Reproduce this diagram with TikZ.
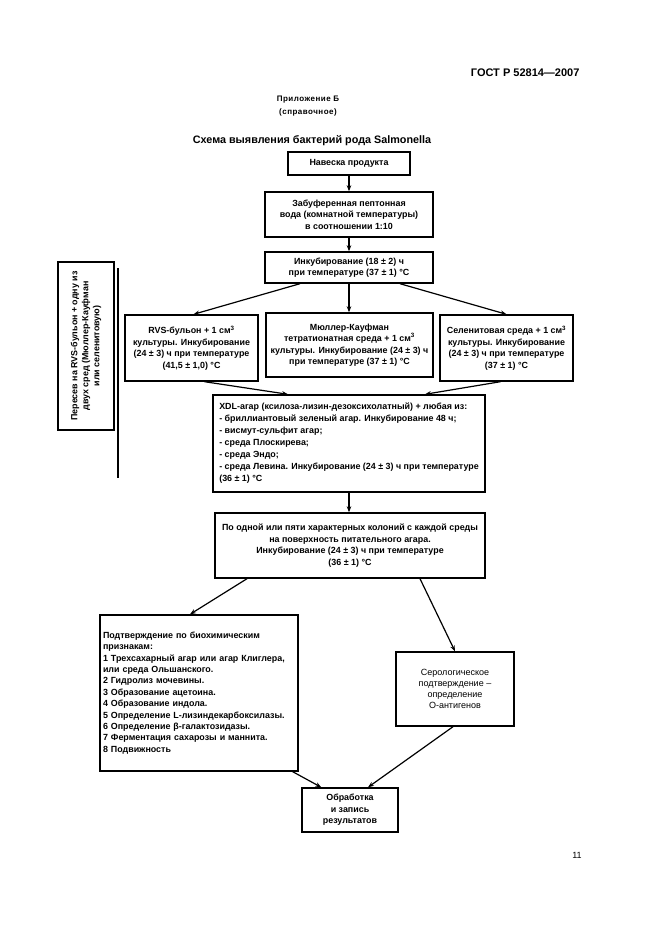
\documentclass[tikz,border=0pt]{standalone}
\usepackage{fontspec}
\setmainfont{Liberation Sans}
\usetikzlibrary{arrows.meta,calc}
\begin{document}
\begin{tikzpicture}[x=1pt,y=-1pt,
  box/.style={draw, line width=1.4pt, align=center, inner sep=1.5pt,
    font=\fontsize{8.9}{11.5}\selectfont\bfseries},
  arr/.style={line width=1.2pt, -{Stealth[length=6pt,width=4.5pt]}},
  ln/.style={line width=1.2pt}]
\useasboundingbox (0,0) rectangle (661,936);
\fill[white] (0,0) rectangle (661,936);
% header
\node[font=\fontsize{11}{13}\selectfont\bfseries, anchor=east] (hdr) at (583,73) {ГОСТ Р 52814—2007};
\node[font=\fontsize{8}{13}\selectfont\bfseries\addfontfeatures{LetterSpace=6}, align=center] (app) at (308,106) {Приложение Б\\(справочное)};
\node[font=\fontsize{10.8}{13}\selectfont\bfseries] (ttl) at (312,141) {Схема выявления бактерий рода Salmonella};
\node[font=\fontsize{9}{10}\selectfont] (pg) at (577,855) {11};
% boxes
\node[box, minimum width=122, minimum height=23] (n1) at (349,163.5) {Навеска продукта};
\node[box, minimum width=168, minimum height=45] (n2) at (349,214.5) {Забуференная пептонная\\вода (комнатной температуры)\\в соотношении 1:10};
\node[box, minimum width=168, minimum height=31] (n3) at (349,267.5) {Инкубирование (18 ± 2) ч\\при температуре (37 ± 1) °С};
\node[box, minimum width=168, minimum height=56, rotate=90, font=\fontsize{8.9}{11}\selectfont\bfseries] (lv) at (86,346) {Пересев на RVS-бульон + одну из\\двух сред (Мюллер-Кауфман\\или селенитовую)};
\node[box, minimum width=133, minimum height=66] (rvs) at (191.5,348) {RVS-бульон + 1 см\textsuperscript{3}\\культуры. Инкубирование\\(24 ± 3) ч при температуре\\(41,5 ± 1,0) °С};
\node[box, minimum width=167, minimum height=64] (mk) at (349.5,345) {Мюллер-Кауфман\\тетратионатная среда + 1 см\textsuperscript{3}\\культуры. Инкубирование\ (24 ± 3) ч\\при температуре (37 ± 1) °С};
\node[box, minimum width=133, minimum height=66] (sel) at (506.5,348) {Селенитовая среда + 1 см\textsuperscript{3}\\культуры. Инкубирование\\(24 ± 3) ч при температуре\\(37 ± 1) °С};
\node[box, minimum width=272, minimum height=97, align=left, font=\fontsize{8.9}{12}\selectfont\bfseries] (xdl) at (349,443.5) {XDL-агар (ксилоза-лизин-дезоксихолатный) + любая из:\\- бриллиантовый зеленый агар. Инкубирование 48 ч;\\- висмут-сульфит агар;\\- среда Плоскирева;\\- среда Эндо;\\- среда Левина. Инкубирование (24 ± 3) ч при температуре\\(36 ± 1) °С};
\node[box, minimum width=270, minimum height=65] (one) at (350,545.5) {По одной или пяти характерных колоний с каждой среды\\на поверхность питательного агара.\\Инкубирование (24 ± 3) ч при температуре\\(36 ± 1) °С};
\node[box, minimum width=198, minimum height=156, align=left, text width=192, font=\fontsize{8.9}{11.4}\selectfont\bfseries] (bio) at (199,693) {Подтверждение по биохимическим\\признакам:\\1 Трехсахарный агар или агар Клиглера,\\или среда Ольшанского.\\2 Гидролиз мочевины.\\3 Образование ацетоина.\\4 Образование индола.\\5 Определение L-лизиндекарбоксилазы.\\6 Определение β-галактозидазы.\\7 Ферментация сахарозы и маннита.\\8 Подвижность};
\node[box, minimum width=118, minimum height=74, font=\fontsize{9}{11}\selectfont] (sero) at (455,689) {Серологическое\\подтверждение –\\определение\\О-антигенов};
\node[box, minimum width=96, minimum height=44] (res) at (350,810) {Обработка\\и запись\\результатов};
% left bracket line
\coordinate (lt) at (118,268);
\coordinate (lb) at (118,478);
\draw[ln] (lt) -- (lb);
% connectors
\draw[arr] (n1.south) -- (n2.north);
\draw[arr] (n2.south) -- (n3.north);
\draw[arr] ([xshift=-49pt]n3.south) -- ([xshift=2pt]rvs.north);
\draw[arr] (n3.south) -- (n3.south |- mk.north);
\draw[arr] ([xshift=51pt]n3.south) -- (sel.north);
\draw[arr] ([xshift=13pt]rvs.south) -- ([xshift=-61pt]xdl.north);
\draw[arr] ([xshift=-6pt]sel.south) -- ([xshift=76pt]xdl.north);
\draw[arr] (xdl.south) -- (xdl.south |- one.north);
\draw[arr] ([xshift=-103pt]one.south) -- ([xshift=-9pt]bio.north);
\draw[arr] ([xshift=70pt]one.south) -- (sero.north);
\draw[arr] ([xshift=-6pt]bio.south east) -- ([xshift=20pt]res.north west);
\draw[arr] ([xshift=-2pt]sero.south) -- ([xshift=18pt]res.north);
\end{tikzpicture}
\end{document}
